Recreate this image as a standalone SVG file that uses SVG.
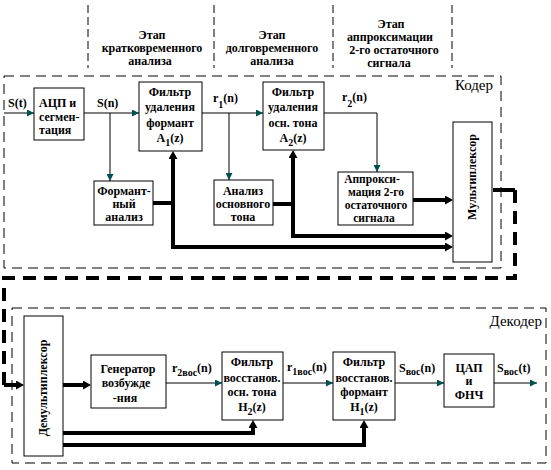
<svg xmlns="http://www.w3.org/2000/svg" width="551" height="470" viewBox="0 0 551 470">
<style>
.t{font-family:"Liberation Serif","DejaVu Serif",serif;font-weight:bold;font-size:12px;fill:#000}
.s{font-size:11.5px}
.m{text-anchor:middle}
.big{font-family:"Liberation Serif","DejaVu Serif",serif;font-size:15px;fill:#000}
.sub{font-size:10px}
.box{fill:#fff;stroke:#000;stroke-width:1}
.thin{fill:none;stroke:#000;stroke-width:1}
.thick{fill:none;stroke:#000;stroke-width:4}
.vd{fill:none;stroke:#000;stroke-width:1;stroke-dasharray:8 4}
.fd{fill:none;stroke:#000;stroke-width:1;stroke-dasharray:10 6}
.td{fill:none;stroke:#000;stroke-width:4;stroke-dasharray:13 8}
</style>
<defs>
<marker id="ta" markerWidth="7" markerHeight="7" refX="7" refY="3.5" orient="auto" markerUnits="userSpaceOnUse"><path d="M0,0 L7,3.5 L0,7 z" fill="#005050"/></marker>
<marker id="ka" markerWidth="8" markerHeight="9" refX="0" refY="4.5" orient="auto-start-reverse" markerUnits="userSpaceOnUse"><path d="M0,0 L8,4.5 L0,9 z" fill="#000"/></marker>
</defs>
<rect width="551" height="470" fill="#fff"/>

<g id="stages">
<path class="vd" d="M88,5 V68 M214,5 V68 M333,5 V68 M452,5 V68"/>
<text class="t m" x="152" y="39">Этап</text>
<text class="t m" x="152" y="52">кратковременного</text>
<text class="t m" x="150" y="65">анализа</text>
<text class="t m" x="272" y="39">Этап</text>
<text class="t m" x="272" y="52">долговременного</text>
<text class="t m" x="272" y="65">анализа</text>
<text class="t m" x="391" y="28">Этап</text>
<text class="t m" x="390" y="41">аппроксимации</text>
<text class="t m" x="394" y="54">2-го остаточного</text>
<text class="t m" x="389" y="67">сигнала</text>
</g>

<g id="coder">
<rect class="fd" x="4" y="76" width="497" height="192"/>
<text class="big" x="493" y="90" text-anchor="end">Кодер</text>
</g>
<g id="decoder">
<rect class="fd" x="12" y="308" width="534" height="155"/>
<text class="big" x="542" y="326" text-anchor="end">Декодер</text>
</g>

<g id="connectors">
<path class="thin" d="M4,113 H34" marker-end="url(#ta)"/>
<path class="thin" d="M84,113 H139" marker-end="url(#ta)"/>
<path class="thin" d="M110,113 V181" marker-end="url(#ta)"/>
<path class="thin" d="M202,113 H263" marker-end="url(#ta)"/>
<path class="thin" d="M229,113 V180" marker-end="url(#ta)"/>
<path class="thin" d="M324,113 H377 V172" marker-end="url(#ta)"/>
<path class="thick" d="M153,203 H173"/>
<path class="thick" d="M173,159 V247 H445" marker-start="url(#ka)" marker-end="url(#ka)"/>
<path class="thick" d="M273,204 H293"/>
<path class="thick" d="M293,158 V236 H445" marker-start="url(#ka)" marker-end="url(#ka)"/>
<path class="thick" d="M413,200 H445" marker-end="url(#ka)"/>
<path class="thick" d="M493,190 H515"/>
<path class="td" d="M515,190 V278 H4 V385"/>
<path class="thick" d="M4,385 H16" marker-end="url(#ka)"/>
<path class="thick" d="M63,385 H83" marker-end="url(#ka)"/>
<path class="thick" d="M63,433 H253 V428" marker-end="url(#ka)"/>
<path class="thick" d="M63,445 H364 V428" marker-end="url(#ka)"/>
<path class="thin" d="M166,383 H222" marker-end="url(#ta)"/>
<path class="thin" d="M283,383 H333" marker-end="url(#ta)"/>
<path class="thin" d="M395,383 H444" marker-end="url(#ta)"/>
<path class="thin" d="M494,383 H537" marker-end="url(#ta)"/>
</g>

<g id="labels">
<text class="t" x="8" y="107">S(t)</text>
<text class="t" x="97" y="107">S(n)</text>
<text class="t" x="213" y="102">r<tspan class="sub" dy="6">1</tspan><tspan dy="-6">(n)</tspan></text>
<text class="t" x="342" y="101">r<tspan class="sub" dy="6">2</tspan><tspan dy="-6">(n)</tspan></text>
<text class="t" x="172" y="372">r<tspan class="sub" dy="4">2вос</tspan><tspan dy="-4">(n)</tspan></text>
<text class="t" x="287" y="371">r<tspan class="sub" dy="4">1вос</tspan><tspan dy="-4">(n)</tspan></text>
<text class="t" x="399" y="372">S<tspan class="sub" dy="3">вос</tspan><tspan dy="-3">(n)</tspan></text>
<text class="t" x="497" y="372">S<tspan class="sub" dy="3">вос</tspan><tspan dy="-3">(t)</tspan></text>
</g>

<g id="adc">
<rect class="box" x="34" y="88" width="50" height="52"/>
<text class="t" x="39" y="107">АЦП и</text>
<text class="t" x="39" y="121">сегмен-</text>
<text class="t" x="39" y="134">тация</text>
</g>
<g id="formant-analysis">
<rect class="box" x="94" y="181" width="59" height="44"/>
<text class="t m" x="124" y="195">Формант-</text>
<text class="t m" x="124" y="208">ный</text>
<text class="t m" x="124" y="221">анализ</text>
</g>
<g id="filter1">
<rect class="box" x="139" y="82" width="63" height="69"/>
<text class="t m" x="170" y="96">Фильтр</text>
<text class="t m" x="170" y="111">удаления</text>
<text class="t m" x="170" y="127">формант</text>
<text class="t m" x="170" y="142">A<tspan class="sub" dy="4">1</tspan><tspan dy="-4">(z)</tspan></text>
</g>
<g id="pitch-analysis">
<rect class="box" x="214" y="180" width="59" height="45"/>
<text class="t m" x="243" y="195">Анализ</text>
<text class="t m" x="243" y="208">основного</text>
<text class="t m" x="243" y="221">тона</text>
</g>
<g id="filter2">
<rect class="box" x="263" y="82" width="61" height="68"/>
<text class="t m" x="293" y="96">Фильтр</text>
<text class="t m" x="293" y="111">удаления</text>
<text class="t m" x="293" y="127">осн. тона</text>
<text class="t m" x="293" y="142">A<tspan class="sub" dy="4">2</tspan><tspan dy="-4">(z)</tspan></text>
</g>
<g id="approx">
<rect class="box" x="338" y="172" width="75" height="53"/>
<text class="t s m" x="372" y="183">Аппрокси-</text>
<text class="t s m" x="376" y="196">мация 2-го</text>
<text class="t s m" x="376" y="209">остаточного</text>
<text class="t s m" x="374" y="222">сигнала</text>
</g>
<g id="mux">
<rect class="box" x="453" y="122" width="39" height="140"/>
<text class="t m" transform="translate(476,177) rotate(-90)">Мультиплексор</text>
</g>
<g id="demux">
<rect class="box" x="24" y="316" width="39" height="140"/>
<text class="t m" transform="translate(47,388) rotate(-90)">Демультиплексор</text>
</g>
<g id="generator">
<rect class="box" x="91" y="355" width="75" height="53"/>
<text class="t m" x="128" y="373">Генератор</text>
<text class="t m" x="126" y="387">возбужде</text>
<text class="t m" x="125" y="402">-ния</text>
</g>
<g id="filterH2">
<rect class="box" x="222" y="352" width="61" height="68"/>
<text class="t m" x="252" y="366">Фильтр</text>
<text class="t m" x="252" y="382">восстанов.</text>
<text class="t m" x="252" y="396">осн. тона</text>
<text class="t m" x="252" y="411">H<tspan class="sub" dy="4">2</tspan><tspan dy="-4">(z)</tspan></text>
</g>
<g id="filterH1">
<rect class="box" x="333" y="352" width="62" height="68"/>
<text class="t m" x="364" y="366">Фильтр</text>
<text class="t m" x="364" y="382">восстанов.</text>
<text class="t m" x="364" y="396">формант</text>
<text class="t m" x="364" y="411">H<tspan class="sub" dy="4">1</tspan><tspan dy="-4">(z)</tspan></text>
</g>
<g id="dac">
<rect class="box" x="444" y="354" width="50" height="53"/>
<text class="t m" x="469" y="372">ЦАП</text>
<text class="t m" x="469" y="385">и</text>
<text class="t m" x="469" y="399">ФНЧ</text>
</g>
</svg>
